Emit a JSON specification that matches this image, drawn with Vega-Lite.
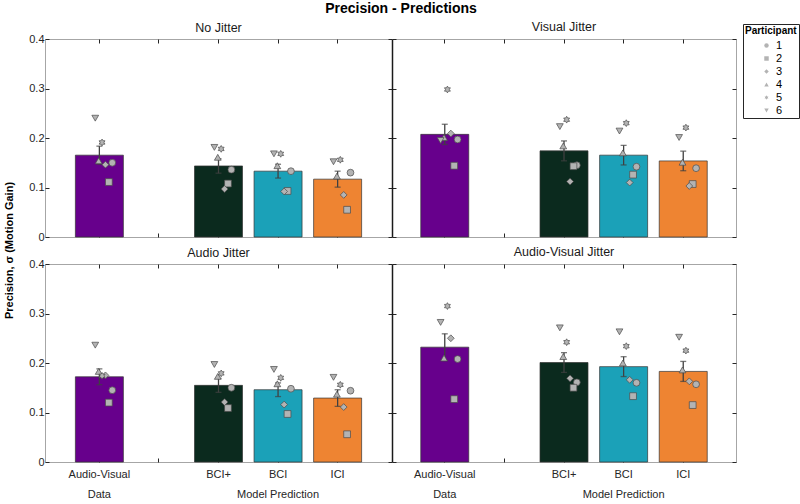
{
  "$schema": "https://vega.github.io/schema/vega-lite/v6.json",
  "bounds": "flush",
  "padding": {"left": 2, "top": 2, "right": 0, "bottom": 2},
  "title": {"text": "Precision - Predictions", "fontSize": 14, "fontWeight": "bold", "anchor": "middle", "color": "#000000", "offset": 4},
  "datasets": {
    "precision": [
      {"condition": "No Jitter", "model": "Audio-Visual", "participant": 1, "sigma": 0.150},
      {"condition": "No Jitter", "model": "Audio-Visual", "participant": 2, "sigma": 0.111},
      {"condition": "No Jitter", "model": "Audio-Visual", "participant": 3, "sigma": 0.146},
      {"condition": "No Jitter", "model": "Audio-Visual", "participant": 4, "sigma": 0.154},
      {"condition": "No Jitter", "model": "Audio-Visual", "participant": 5, "sigma": 0.191},
      {"condition": "No Jitter", "model": "Audio-Visual", "participant": 6, "sigma": 0.240},
      {"condition": "No Jitter", "model": "BCI+", "participant": 1, "sigma": 0.136},
      {"condition": "No Jitter", "model": "BCI+", "participant": 2, "sigma": 0.108},
      {"condition": "No Jitter", "model": "BCI+", "participant": 3, "sigma": 0.097},
      {"condition": "No Jitter", "model": "BCI+", "participant": 4, "sigma": 0.161},
      {"condition": "No Jitter", "model": "BCI+", "participant": 5, "sigma": 0.178},
      {"condition": "No Jitter", "model": "BCI+", "participant": 6, "sigma": 0.181},
      {"condition": "No Jitter", "model": "BCI", "participant": 1, "sigma": 0.133},
      {"condition": "No Jitter", "model": "BCI", "participant": 2, "sigma": 0.093},
      {"condition": "No Jitter", "model": "BCI", "participant": 3, "sigma": 0.092},
      {"condition": "No Jitter", "model": "BCI", "participant": 4, "sigma": 0.144},
      {"condition": "No Jitter", "model": "BCI", "participant": 5, "sigma": 0.168},
      {"condition": "No Jitter", "model": "BCI", "participant": 6, "sigma": 0.168},
      {"condition": "No Jitter", "model": "ICI", "participant": 1, "sigma": 0.130},
      {"condition": "No Jitter", "model": "ICI", "participant": 2, "sigma": 0.055},
      {"condition": "No Jitter", "model": "ICI", "participant": 3, "sigma": 0.085},
      {"condition": "No Jitter", "model": "ICI", "participant": 4, "sigma": 0.123},
      {"condition": "No Jitter", "model": "ICI", "participant": 5, "sigma": 0.156},
      {"condition": "No Jitter", "model": "ICI", "participant": 6, "sigma": 0.152},

      {"condition": "Visual Jitter", "model": "Audio-Visual", "participant": 1, "sigma": 0.197},
      {"condition": "Visual Jitter", "model": "Audio-Visual", "participant": 2, "sigma": 0.144},
      {"condition": "Visual Jitter", "model": "Audio-Visual", "participant": 3, "sigma": 0.209},
      {"condition": "Visual Jitter", "model": "Audio-Visual", "participant": 4, "sigma": 0.201},
      {"condition": "Visual Jitter", "model": "Audio-Visual", "participant": 5, "sigma": 0.298},
      {"condition": "Visual Jitter", "model": "Audio-Visual", "participant": 6, "sigma": 0.195},
      {"condition": "Visual Jitter", "model": "BCI+", "participant": 1, "sigma": 0.145},
      {"condition": "Visual Jitter", "model": "BCI+", "participant": 2, "sigma": 0.143},
      {"condition": "Visual Jitter", "model": "BCI+", "participant": 3, "sigma": 0.112},
      {"condition": "Visual Jitter", "model": "BCI+", "participant": 4, "sigma": 0.184},
      {"condition": "Visual Jitter", "model": "BCI+", "participant": 5, "sigma": 0.237},
      {"condition": "Visual Jitter", "model": "BCI+", "participant": 6, "sigma": 0.223},
      {"condition": "Visual Jitter", "model": "BCI", "participant": 1, "sigma": 0.142},
      {"condition": "Visual Jitter", "model": "BCI", "participant": 2, "sigma": 0.126},
      {"condition": "Visual Jitter", "model": "BCI", "participant": 3, "sigma": 0.110},
      {"condition": "Visual Jitter", "model": "BCI", "participant": 4, "sigma": 0.170},
      {"condition": "Visual Jitter", "model": "BCI", "participant": 5, "sigma": 0.230},
      {"condition": "Visual Jitter", "model": "BCI", "participant": 6, "sigma": 0.214},
      {"condition": "Visual Jitter", "model": "ICI", "participant": 1, "sigma": 0.139},
      {"condition": "Visual Jitter", "model": "ICI", "participant": 2, "sigma": 0.107},
      {"condition": "Visual Jitter", "model": "ICI", "participant": 3, "sigma": 0.103},
      {"condition": "Visual Jitter", "model": "ICI", "participant": 4, "sigma": 0.151},
      {"condition": "Visual Jitter", "model": "ICI", "participant": 5, "sigma": 0.221},
      {"condition": "Visual Jitter", "model": "ICI", "participant": 6, "sigma": 0.201},

      {"condition": "Audio Jitter", "model": "Audio-Visual", "participant": 1, "sigma": 0.145},
      {"condition": "Audio Jitter", "model": "Audio-Visual", "participant": 2, "sigma": 0.120},
      {"condition": "Audio Jitter", "model": "Audio-Visual", "participant": 3, "sigma": 0.175},
      {"condition": "Audio Jitter", "model": "Audio-Visual", "participant": 4, "sigma": 0.183},
      {"condition": "Audio Jitter", "model": "Audio-Visual", "participant": 5, "sigma": 0.174},
      {"condition": "Audio Jitter", "model": "Audio-Visual", "participant": 6, "sigma": 0.236},
      {"condition": "Audio Jitter", "model": "BCI+", "participant": 1, "sigma": 0.150},
      {"condition": "Audio Jitter", "model": "BCI+", "participant": 2, "sigma": 0.109},
      {"condition": "Audio Jitter", "model": "BCI+", "participant": 3, "sigma": 0.121},
      {"condition": "Audio Jitter", "model": "BCI+", "participant": 4, "sigma": 0.173},
      {"condition": "Audio Jitter", "model": "BCI+", "participant": 5, "sigma": 0.179},
      {"condition": "Audio Jitter", "model": "BCI+", "participant": 6, "sigma": 0.197},
      {"condition": "Audio Jitter", "model": "BCI", "participant": 1, "sigma": 0.148},
      {"condition": "Audio Jitter", "model": "BCI", "participant": 2, "sigma": 0.097},
      {"condition": "Audio Jitter", "model": "BCI", "participant": 3, "sigma": 0.116},
      {"condition": "Audio Jitter", "model": "BCI", "participant": 4, "sigma": 0.158},
      {"condition": "Audio Jitter", "model": "BCI", "participant": 5, "sigma": 0.170},
      {"condition": "Audio Jitter", "model": "BCI", "participant": 6, "sigma": 0.187},
      {"condition": "Audio Jitter", "model": "ICI", "participant": 1, "sigma": 0.144},
      {"condition": "Audio Jitter", "model": "ICI", "participant": 2, "sigma": 0.056},
      {"condition": "Audio Jitter", "model": "ICI", "participant": 3, "sigma": 0.111},
      {"condition": "Audio Jitter", "model": "ICI", "participant": 4, "sigma": 0.137},
      {"condition": "Audio Jitter", "model": "ICI", "participant": 5, "sigma": 0.156},
      {"condition": "Audio Jitter", "model": "ICI", "participant": 6, "sigma": 0.171},

      {"condition": "Audio-Visual Jitter", "model": "Audio-Visual", "participant": 1, "sigma": 0.208},
      {"condition": "Audio-Visual Jitter", "model": "Audio-Visual", "participant": 2, "sigma": 0.127},
      {"condition": "Audio-Visual Jitter", "model": "Audio-Visual", "participant": 3, "sigma": 0.250},
      {"condition": "Audio-Visual Jitter", "model": "Audio-Visual", "participant": 4, "sigma": 0.210},
      {"condition": "Audio-Visual Jitter", "model": "Audio-Visual", "participant": 5, "sigma": 0.315},
      {"condition": "Audio-Visual Jitter", "model": "Audio-Visual", "participant": 6, "sigma": 0.282},
      {"condition": "Audio-Visual Jitter", "model": "BCI+", "participant": 1, "sigma": 0.161},
      {"condition": "Audio-Visual Jitter", "model": "BCI+", "participant": 2, "sigma": 0.150},
      {"condition": "Audio-Visual Jitter", "model": "BCI+", "participant": 3, "sigma": 0.169},
      {"condition": "Audio-Visual Jitter", "model": "BCI+", "participant": 4, "sigma": 0.213},
      {"condition": "Audio-Visual Jitter", "model": "BCI+", "participant": 5, "sigma": 0.242},
      {"condition": "Audio-Visual Jitter", "model": "BCI+", "participant": 6, "sigma": 0.271},
      {"condition": "Audio-Visual Jitter", "model": "BCI", "participant": 1, "sigma": 0.160},
      {"condition": "Audio-Visual Jitter", "model": "BCI", "participant": 2, "sigma": 0.133},
      {"condition": "Audio-Visual Jitter", "model": "BCI", "participant": 3, "sigma": 0.166},
      {"condition": "Audio-Visual Jitter", "model": "BCI", "participant": 4, "sigma": 0.200},
      {"condition": "Audio-Visual Jitter", "model": "BCI", "participant": 5, "sigma": 0.234},
      {"condition": "Audio-Visual Jitter", "model": "BCI", "participant": 6, "sigma": 0.263},
      {"condition": "Audio-Visual Jitter", "model": "ICI", "participant": 1, "sigma": 0.157},
      {"condition": "Audio-Visual Jitter", "model": "ICI", "participant": 2, "sigma": 0.115},
      {"condition": "Audio-Visual Jitter", "model": "ICI", "participant": 3, "sigma": 0.163},
      {"condition": "Audio-Visual Jitter", "model": "ICI", "participant": 4, "sigma": 0.186},
      {"condition": "Audio-Visual Jitter", "model": "ICI", "participant": 5, "sigma": 0.225},
      {"condition": "Audio-Visual Jitter", "model": "ICI", "participant": 6, "sigma": 0.252}
    ]
  },
  "data": {"name": "precision"},
  "columns": 2,
  "spacing": {"row": 27, "column": 0},
  "concat": [
    {
      "width": 347, "height": 198,
      "title": "No Jitter",
      "transform": [{"filter": "datum.condition === 'No Jitter'"}],
      "resolve": {"axis": {"x": "independent", "y": "independent"}},
      "layer": [
        {
          "mark": {"type": "bar", "stroke": "#333333", "strokeWidth": 0.7, "size": 48},
          "encoding": {
            "x": {"field": "model", "type": "nominal", "sort": null,
                  "scale": {"type": "band", "domain": ["Audio-Visual", " ", "BCI+", "BCI", "ICI"], "paddingInner": 0.19, "paddingOuter": 0.508},
                  "axis": {"title": null, "labels": false, "domain": false, "tickSize": -4, "bandPosition": 0.5}},
            "y": {"aggregate": "mean", "field": "sigma", "type": "quantitative",
                  "scale": {"domain": [0, 0.4], "nice": false},
                  "axis": {"title": "Precision, σ (Motion Gain)", "titleX": -36, "titleY": 211, "titleAngle": -90, "titleAlign": "center", "titleBaseline": "middle",
                           "values": [0, 0.1, 0.2, 0.3, 0.4], "format": "~g", "domain": false, "tickSize": -4, "labelPadding": 5}},
            "color": {"field": "model", "type": "nominal", "legend": null,
                      "scale": {"domain": ["Audio-Visual", "BCI+", "BCI", "ICI"], "range": ["#67008c", "#0b2a1e", "#1ba1b8", "#ee8432"]}}
          }
        },
        {
          "mark": {"type": "errorbar", "extent": "stderr", "ticks": {"size": 6}, "color": "#404040", "thickness": 1.3},
          "encoding": {
            "x": {"field": "model", "type": "nominal", "axis": null},
            "y": {"field": "sigma", "type": "quantitative", "axis": null}
          }
        },
        {
          "mark": {"type": "point", "filled": true, "fill": "#b3b3b3", "stroke": "#4a4a4a", "strokeWidth": 0.7, "opacity": 1, "size": 46},
          "encoding": {
            "x": {"field": "model", "type": "nominal", "axis": {"orient": "top", "title": null, "labels": false, "domain": false, "tickSize": -4, "bandPosition": 0.5}},
            "xOffset": {"field": "participant", "type": "nominal", "scale": {"type": "point", "domain": [6, 4, 5, 3, 2, 1], "range": [20, 37], "padding": 0}},
            "y": {"field": "sigma", "type": "quantitative", "axis": {"orient": "right", "title": null, "labels": false, "domain": false, "tickSize": -4, "values": [0, 0.1, 0.2, 0.3, 0.4]}},
            "shape": {"field": "participant", "type": "nominal",
                      "scale": {"domain": [1, 2, 3, 4, 5, 6], "range": ["circle", "square", "diamond", "triangle-up", "M0,-1L0.289,-0.5L0.866,-0.5L0.577,0L0.866,0.5L0.289,0.5L0,1L-0.289,0.5L-0.866,0.5L-0.577,0L-0.866,-0.5L-0.289,-0.5Z", "triangle-down"]},
                      "legend": {"title": "Participant", "orient": "none", "legendX": 698, "legendY": -15, "strokeColor": "#262626", "fillColor": "#ffffff", "padding": 2,
                                 "titleFontSize": 10, "titleFontWeight": "bold", "titleColor": "#000000", "titlePadding": 4, "labelFontSize": 11, "labelColor": "#000000",
                                 "symbolSize": 20, "symbolOffset": 16, "symbolFillColor": "#b3b3b3", "symbolStrokeColor": "#4a4a4a", "symbolStrokeWidth": 0.7, "rowPadding": 1}}
          }
        }
      ]
    },
    {
      "width": 344, "height": 198,
      "title": {"text": "Visual Jitter", "offset": 5.5},
      "transform": [{"filter": "datum.condition === 'Visual Jitter'"}],
      "resolve": {"axis": {"x": "independent", "y": "independent"}},
      "layer": [
        {
          "mark": {"type": "bar", "stroke": "#333333", "strokeWidth": 0.7, "size": 48},
          "encoding": {
            "x": {"field": "model", "type": "nominal", "sort": null,
                  "scale": {"type": "band", "domain": ["Audio-Visual", " ", "BCI+", "BCI", "ICI"], "paddingInner": 0.19, "paddingOuter": 0.48},
                  "axis": {"title": null, "labels": false, "domain": false, "tickSize": -4, "bandPosition": 0.5}},
            "y": {"aggregate": "mean", "field": "sigma", "type": "quantitative",
                  "scale": {"domain": [0, 0.4], "nice": false},
                  "axis": {"title": null, "labels": false, "values": [0, 0.1, 0.2, 0.3, 0.4], "domain": true, "domainColor": "#1a1a1a", "domainWidth": 1.5, "tickSize": -4}},
            "color": {"field": "model", "type": "nominal", "legend": null,
                      "scale": {"domain": ["Audio-Visual", "BCI+", "BCI", "ICI"], "range": ["#67008c", "#0b2a1e", "#1ba1b8", "#ee8432"]}}
          }
        },
        {
          "mark": {"type": "errorbar", "extent": "stderr", "ticks": {"size": 6}, "color": "#404040", "thickness": 1.3},
          "encoding": {
            "x": {"field": "model", "type": "nominal", "axis": null},
            "y": {"field": "sigma", "type": "quantitative", "axis": null}
          }
        },
        {
          "mark": {"type": "point", "filled": true, "fill": "#b3b3b3", "stroke": "#4a4a4a", "strokeWidth": 0.7, "opacity": 1, "size": 46},
          "encoding": {
            "x": {"field": "model", "type": "nominal", "axis": {"orient": "top", "title": null, "labels": false, "domain": false, "tickSize": -4, "bandPosition": 0.5}},
            "xOffset": {"field": "participant", "type": "nominal", "scale": {"type": "point", "domain": [6, 4, 5, 3, 2, 1], "range": [20, 37], "padding": 0}},
            "y": {"field": "sigma", "type": "quantitative", "axis": {"orient": "right", "title": null, "labels": false, "domain": false, "tickSize": -4, "values": [0, 0.1, 0.2, 0.3, 0.4]}},
            "shape": {"field": "participant", "type": "nominal",
                      "scale": {"domain": [1, 2, 3, 4, 5, 6], "range": ["circle", "square", "diamond", "triangle-up", "M0,-1L0.289,-0.5L0.866,-0.5L0.577,0L0.866,0.5L0.289,0.5L0,1L-0.289,0.5L-0.866,0.5L-0.577,0L-0.866,-0.5L-0.289,-0.5Z", "triangle-down"]}}
          }
        }
      ]
    },
    {
      "width": 347, "height": 198,
      "title": "Audio Jitter",
      "transform": [{"filter": "datum.condition === 'Audio Jitter'"}],
      "resolve": {"axis": {"x": "independent", "y": "independent"}},
      "layer": [
        {
          "mark": {"type": "bar", "stroke": "#333333", "strokeWidth": 0.7, "size": 48},
          "encoding": {
            "x": {"field": "model", "type": "nominal", "sort": null,
                  "scale": {"type": "band", "domain": ["Audio-Visual", " ", "BCI+", "BCI", "ICI"], "paddingInner": 0.19, "paddingOuter": 0.508},
                  "axis": {"title": null, "domain": false, "tickSize": -4, "bandPosition": 0.5, "labelAngle": 0, "labelOverlap": false, "labelPadding": 10, "labelLineHeight": 20,
                           "labelExpr": "datum.value === 'Audio-Visual' ? ['Audio-Visual', 'Data'] : datum.value === 'BCI' ? ['BCI', 'Model Prediction'] : datum.value"}},
            "y": {"aggregate": "mean", "field": "sigma", "type": "quantitative",
                  "scale": {"domain": [0, 0.4], "nice": false},
                  "axis": {"title": null, "values": [0, 0.1, 0.2, 0.3, 0.4], "format": "~g", "domain": false, "tickSize": -4, "labelPadding": 5}},
            "color": {"field": "model", "type": "nominal", "legend": null,
                      "scale": {"domain": ["Audio-Visual", "BCI+", "BCI", "ICI"], "range": ["#67008c", "#0b2a1e", "#1ba1b8", "#ee8432"]}}
          }
        },
        {
          "mark": {"type": "errorbar", "extent": "stderr", "ticks": {"size": 6}, "color": "#404040", "thickness": 1.3},
          "encoding": {
            "x": {"field": "model", "type": "nominal", "axis": null},
            "y": {"field": "sigma", "type": "quantitative", "axis": null}
          }
        },
        {
          "mark": {"type": "point", "filled": true, "fill": "#b3b3b3", "stroke": "#4a4a4a", "strokeWidth": 0.7, "opacity": 1, "size": 46},
          "encoding": {
            "x": {"field": "model", "type": "nominal", "axis": {"orient": "top", "title": null, "labels": false, "domain": false, "tickSize": -4, "bandPosition": 0.5}},
            "xOffset": {"field": "participant", "type": "nominal", "scale": {"type": "point", "domain": [6, 4, 5, 3, 2, 1], "range": [20, 37], "padding": 0}},
            "y": {"field": "sigma", "type": "quantitative", "axis": {"orient": "right", "title": null, "labels": false, "domain": false, "tickSize": -4, "values": [0, 0.1, 0.2, 0.3, 0.4]}},
            "shape": {"field": "participant", "type": "nominal",
                      "scale": {"domain": [1, 2, 3, 4, 5, 6], "range": ["circle", "square", "diamond", "triangle-up", "M0,-1L0.289,-0.5L0.866,-0.5L0.577,0L0.866,0.5L0.289,0.5L0,1L-0.289,0.5L-0.866,0.5L-0.577,0L-0.866,-0.5L-0.289,-0.5Z", "triangle-down"]}}
          }
        }
      ]
    },
    {
      "width": 344, "height": 198,
      "title": {"text": "Audio-Visual Jitter", "offset": 5.5},
      "transform": [{"filter": "datum.condition === 'Audio-Visual Jitter'"}],
      "resolve": {"axis": {"x": "independent", "y": "independent"}},
      "layer": [
        {
          "mark": {"type": "bar", "stroke": "#333333", "strokeWidth": 0.7, "size": 48},
          "encoding": {
            "x": {"field": "model", "type": "nominal", "sort": null,
                  "scale": {"type": "band", "domain": ["Audio-Visual", " ", "BCI+", "BCI", "ICI"], "paddingInner": 0.19, "paddingOuter": 0.48},
                  "axis": {"title": null, "domain": false, "tickSize": -4, "bandPosition": 0.5, "labelAngle": 0, "labelOverlap": false, "labelPadding": 10, "labelLineHeight": 20,
                           "labelExpr": "datum.value === 'Audio-Visual' ? ['Audio-Visual', 'Data'] : datum.value === 'BCI' ? ['BCI', 'Model Prediction'] : datum.value"}},
            "y": {"aggregate": "mean", "field": "sigma", "type": "quantitative",
                  "scale": {"domain": [0, 0.4], "nice": false},
                  "axis": {"title": null, "labels": false, "values": [0, 0.1, 0.2, 0.3, 0.4], "domain": true, "domainColor": "#1a1a1a", "domainWidth": 1.5, "tickSize": -4}},
            "color": {"field": "model", "type": "nominal", "legend": null,
                      "scale": {"domain": ["Audio-Visual", "BCI+", "BCI", "ICI"], "range": ["#67008c", "#0b2a1e", "#1ba1b8", "#ee8432"]}}
          }
        },
        {
          "mark": {"type": "errorbar", "extent": "stderr", "ticks": {"size": 6}, "color": "#404040", "thickness": 1.3},
          "encoding": {
            "x": {"field": "model", "type": "nominal", "axis": null},
            "y": {"field": "sigma", "type": "quantitative", "axis": null}
          }
        },
        {
          "mark": {"type": "point", "filled": true, "fill": "#b3b3b3", "stroke": "#4a4a4a", "strokeWidth": 0.7, "opacity": 1, "size": 46},
          "encoding": {
            "x": {"field": "model", "type": "nominal", "axis": {"orient": "top", "title": null, "labels": false, "domain": false, "tickSize": -4, "bandPosition": 0.5}},
            "xOffset": {"field": "participant", "type": "nominal", "scale": {"type": "point", "domain": [6, 4, 5, 3, 2, 1], "range": [20, 37], "padding": 0}},
            "y": {"field": "sigma", "type": "quantitative", "axis": {"orient": "right", "title": null, "labels": false, "domain": false, "tickSize": -4, "values": [0, 0.1, 0.2, 0.3, 0.4]}},
            "shape": {"field": "participant", "type": "nominal",
                      "scale": {"domain": [1, 2, 3, 4, 5, 6], "range": ["circle", "square", "diamond", "triangle-up", "M0,-1L0.289,-0.5L0.866,-0.5L0.577,0L0.866,0.5L0.289,0.5L0,1L-0.289,0.5L-0.866,0.5L-0.577,0L-0.866,-0.5L-0.289,-0.5Z", "triangle-down"]}}
          }
        }
      ]
    }
  ],
  "config": {
    "font": "Liberation Sans",
    "background": "#ffffff",
    "view": {"stroke": "#a6a6a6", "strokeWidth": 1},
    "axis": {"grid": false, "labelFont": "Liberation Sans", "labelFontSize": 11, "labelColor": "#262626", "tickColor": "#262626", "domainColor": "#a6a6a6",
             "titleFont": "Liberation Sans", "titleFontSize": 11, "titleFontWeight": "bold", "titleColor": "#000000"},
    "title": {"font": "Liberation Sans", "fontSize": 12.5, "fontWeight": "normal", "color": "#1a1a1a", "offset": -1.5},
    "legend": {"labelFont": "Liberation Sans", "titleFont": "Liberation Sans"}
  }
}
